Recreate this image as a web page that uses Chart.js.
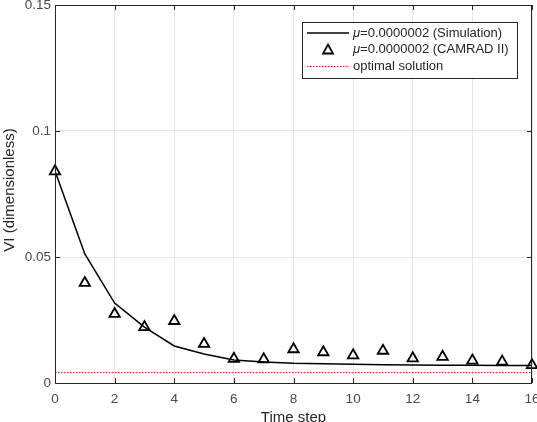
<!DOCTYPE html>
<html>
<head>
<meta charset="utf-8">
<script src="https://cdn.jsdelivr.net/npm/chart.js@4"></script>
<style>
  html, body { margin: 0; padding: 0; background: #fff; }
  #wrap { width: 537px; height: 422px; position: relative; }
</style>
</head>
<body>
<div id="wrap"><canvas id="c"></canvas></div>
<script>
// time steps and values
const steps = [0, 1, 2, 3, 4, 5, 6, 7, 8, 9, 10, 11, 12, 13, 14, 15, 16];
const simulation = [0.0841, 0.0512, 0.0317, 0.0222, 0.0147, 0.0115, 0.0091, 0.0083, 0.0078, 0.0076, 0.0074, 0.0072, 0.0071, 0.0070, 0.0070, 0.0069, 0.0069];
const camrad = [0.0840, 0.0397, 0.0274, 0.0222, 0.0246, 0.0155, 0.0096, 0.0094, 0.0134, 0.0122, 0.0110, 0.0128, 0.0098, 0.0104, 0.0089, 0.0085, 0.0071];
const optimal = 0.0041;
const xTicks = [0, 2, 4, 6, 8, 10, 12, 14, 16];
const yTicks = [0, 0.05, 0.1, 0.15];

const legendRows = [
  { mu: true, text: '=0.0000002 (Simulation)', kind: 'line' },
  { mu: true, text: '=0.0000002 (CAMRAD II)', kind: 'tri' },
  { mu: false, text: 'optimal solution', kind: 'dot' },
];

const axisCol = '#262626';
const font = "'Liberation Sans', Arial, sans-serif";

const pts = (ys) => steps.map((x, i) => ({ x, y: ys[i] }));

// matlab-ish frame: box, inward ticks, axis titles, legend
const matlabFrame = {
  id: 'matlabFrame',
  afterDatasetsDraw(chart) {
    const { ctx, chartArea: a, scales } = chart;
    ctx.save();
    ctx.strokeStyle = axisCol;
    ctx.lineWidth = 1;
    ctx.strokeRect(a.left + 0.5, a.top + 0.5, a.right - a.left - 1, a.bottom - a.top);
    ctx.beginPath();
    xTicks.forEach((t) => {
      const px = Math.round(scales.x.getPixelForValue(t)) + 0.5;
      ctx.moveTo(px, a.bottom); ctx.lineTo(px, a.bottom - 5);
      ctx.moveTo(px, a.top); ctx.lineTo(px, a.top + 5);
    });
    yTicks.forEach((t) => {
      const py = Math.round(scales.y.getPixelForValue(t)) + 0.5;
      ctx.moveTo(a.left, py); ctx.lineTo(a.left + 5, py);
      ctx.moveTo(a.right, py); ctx.lineTo(a.right - 5, py);
    });
    ctx.stroke();

    // axis titles
    ctx.fillStyle = axisCol;
    ctx.font = `15px ${font}`;
    ctx.textAlign = 'center';
    ctx.textBaseline = 'alphabetic';
    ctx.fillText('Time step', (a.left + a.right) / 2, 422);
    ctx.save();
    ctx.translate(9.5, 190);
    ctx.rotate(-Math.PI / 2);
    ctx.textBaseline = 'middle';
    ctx.fillText('VI (dimensionless)', 0, 0);
    ctx.restore();

    // legend
    const bx = 302, by = 22, bw = 215, bh = 56;
    ctx.fillStyle = '#fff';
    ctx.fillRect(bx, by, bw, bh);
    ctx.strokeStyle = axisCol;
    ctx.lineWidth = 1;
    ctx.strokeRect(bx + 0.5, by + 0.5, bw, bh);
    ctx.textBaseline = 'middle';
    legendRows.forEach((r, i) => {
      const y = by + 11 + i * 16.5;
      if (r.kind === 'line') {
        ctx.strokeStyle = '#000'; ctx.lineWidth = 1.5; ctx.setLineDash([]);
        ctx.beginPath(); ctx.moveTo(307, y); ctx.lineTo(349, y); ctx.stroke();
      } else if (r.kind === 'tri') {
        ctx.strokeStyle = '#000'; ctx.lineWidth = 1.8; ctx.setLineDash([]);
        ctx.beginPath();
        ctx.moveTo(328, y - 5); ctx.lineTo(333, y + 4); ctx.lineTo(323, y + 4); ctx.closePath();
        ctx.stroke();
      } else {
        ctx.strokeStyle = '#ff0000'; ctx.lineWidth = 1; ctx.setLineDash([1.5, 1.5]);
        ctx.beginPath(); ctx.moveTo(307, y + 0.5); ctx.lineTo(349, y + 0.5); ctx.stroke();
        ctx.setLineDash([]);
      }
      ctx.fillStyle = axisCol;
      ctx.textAlign = 'left';
      let tx = 353;
      if (r.mu) {
        ctx.font = `italic 13px ${font}`;
        ctx.fillText('\u03bc', tx, y);
        tx += ctx.measureText('\u03bc').width;
      }
      ctx.font = `13px ${font}`;
      ctx.fillText(r.text, tx, y);
    });
    ctx.restore();
  }
};

new Chart(document.getElementById('c'), {
  type: 'line',
  data: {
    datasets: [
      { label: 'optimal solution', data: [{ x: 0, y: optimal }, { x: 16, y: optimal }], borderColor: '#ff0000', borderWidth: 1, borderDash: [1.5, 1.5], pointRadius: 0, fill: false },
      { label: 'Simulation', data: pts(simulation), borderColor: '#000', borderWidth: 1.5, pointRadius: 0, tension: 0, fill: false },
      { label: 'CAMRAD II', data: pts(camrad), showLine: false, pointStyle: 'triangle', pointRadius: 6, pointBorderWidth: 1.8, pointBorderColor: '#000', pointBackgroundColor: 'rgba(0,0,0,0)', clip: false },
    ]
  },
  options: {
    responsive: true, maintainAspectRatio: false, animation: false,
    layout: { autoPadding: false, padding: { top: 5, right: 5, left: 0, bottom: 0 } },
    plugins: { legend: { display: false }, tooltip: { enabled: false } },
    scales: {
      x: {
        type: 'linear', min: 0, max: 16,
        afterFit: (s) => { s.height = 39; s.paddingLeft = 0; s.paddingRight = 0; },
        afterBuildTicks: (s) => { s.ticks = xTicks.map((v) => ({ value: v })); },
        grid: { color: '#e6e6e6', drawTicks: false },
        border: { display: false },
        ticks: { color: '#4a4a4a', padding: 8, font: { family: font, size: 13.5 }, maxRotation: 0 }
      },
      y: {
        min: 0, max: 0.15,
        afterFit: (s) => { s.width = 55; s.paddingTop = 0; s.paddingBottom = 0; },
        afterBuildTicks: (s) => { s.ticks = yTicks.map((v) => ({ value: v })); },
        grid: { color: '#e6e6e6', drawTicks: false },
        border: { display: false },
        ticks: { color: '#4a4a4a', padding: 4, font: { family: font, size: 13.5 }, callback: (v) => String(+v.toFixed(2)) }
      }
    }
  },
  plugins: [matlabFrame]
});
</script>
</body>
</html>
